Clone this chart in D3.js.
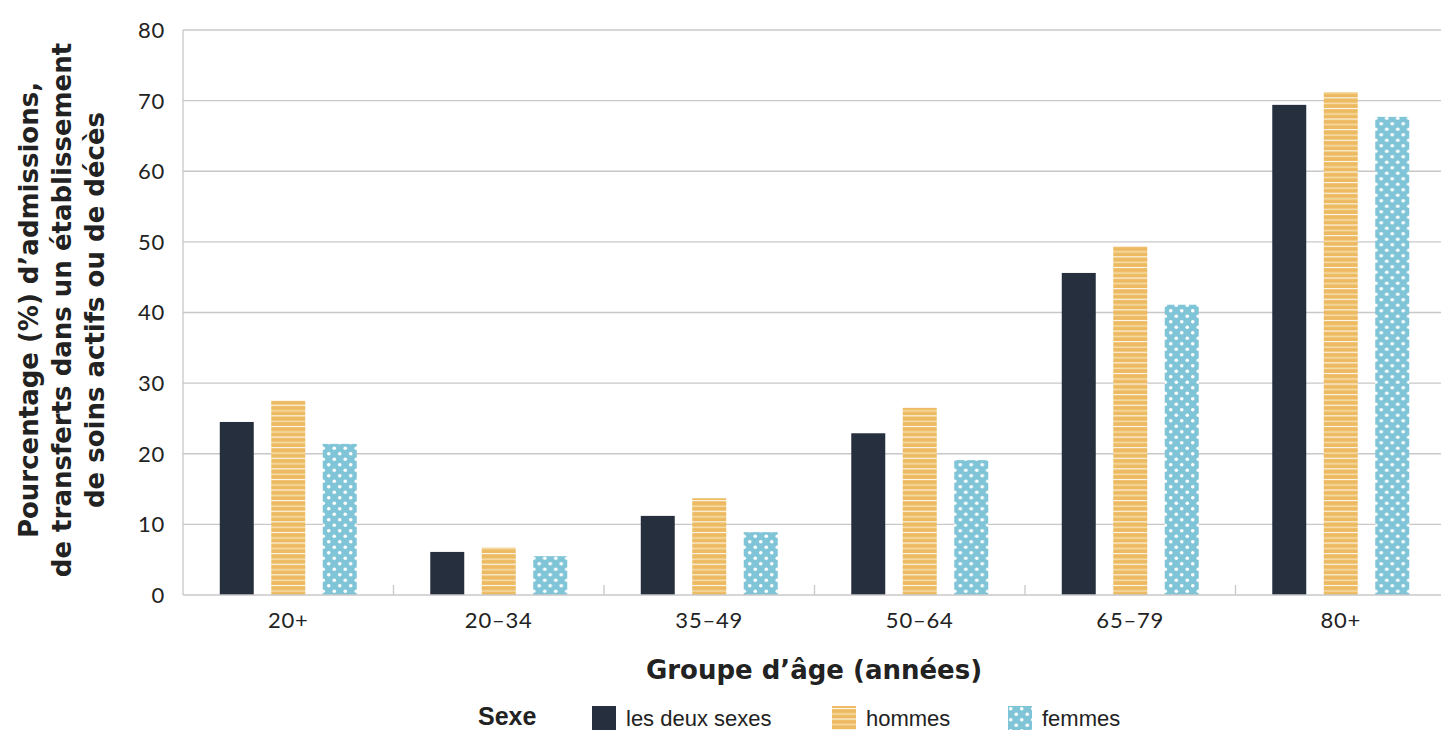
<!DOCTYPE html>
<html>
<head>
<meta charset="utf-8">
<script src="https://cdn.jsdelivr.net/npm/d3@7"></script>
<style>
  html, body { margin: 0; padding: 0; background: #fff; }
  svg { display: block; }
  text { font-family: Lato, "Open Sans", sans-serif; fill: #222; }
  .tick-label { font-size: 22px; letter-spacing: 0.8px; }
  .title { font-family: "DejaVu Sans", sans-serif; font-weight: 700; }
  .legend { font-family: "Liberation Sans", Arial, sans-serif; }
</style>
</head>
<body>
<svg id="chart" width="1441" height="732"></svg>
<script>
const categories = ["20+", "20–34", "35–49", "50–64", "65–79", "80+"];
const seriesNames = ["les deux sexes", "hommes", "femmes"];
const deuxSexes = [24.5, 6.1, 11.2, 22.9, 45.6, 69.4];
const hommes    = [27.5, 6.7, 13.7, 26.5, 49.4, 71.2];
const femmes    = [21.4, 5.5, 8.9, 19.1, 41.1, 67.7];
const yTicks = [0, 10, 20, 30, 40, 50, 60, 70, 80];

const seriesValues = [deuxSexes, hommes, femmes];

const svg = d3.select("#chart");
const margin = { left: 183, right: -5, top: 30, bottom: 137 };
const W = 1441, H = 732;

const x = d3.scaleBand().domain(categories).range([margin.left, W - margin.right]).padding(0);
const x1 = d3.scaleBand().domain(seriesNames).range([0, x.bandwidth()]).paddingInner(0.34).paddingOuter(0.714);
const y = d3.scaleLinear().domain([0, 80]).range([H - margin.bottom, margin.top]);

// Fill patterns: horizontal stripes for men, staggered dots for women
const defs = svg.append("defs");
const pStripe = defs.append("pattern").attr("id", "stripes")
  .attr("patternUnits", "userSpaceOnUse").attr("width", 10).attr("height", 10.6);
pStripe.append("rect").attr("width", 10).attr("height", 10.6).attr("fill", "#EDBA62");
pStripe.append("rect").attr("y", 2).attr("width", 10).attr("height", 1).attr("fill", "#ffffff");
pStripe.append("rect").attr("y", 7.2).attr("width", 10).attr("height", 1.6).attr("fill", "#F6DDA8");

const pDots = defs.append("pattern").attr("id", "dots")
  .attr("patternUnits", "userSpaceOnUse").attr("width", 11).attr("height", 11);
pDots.append("rect").attr("width", 11).attr("height", 11).attr("fill", "#80C5D7");
pDots.append("circle").attr("cx", 2.75).attr("cy", 2.75).attr("r", 1.8).attr("fill", "#ffffff");
pDots.append("circle").attr("cx", 8.25).attr("cy", 8.25).attr("r", 1.8).attr("fill", "#ffffff");

const fills = { "les deux sexes": "#262F3D", "hommes": "url(#stripes)", "femmes": "url(#dots)" };

// Gridlines
svg.append("g").selectAll("line").data(yTicks.filter(d => d > 0)).join("line")
  .attr("x1", margin.left).attr("x2", W)
  .attr("y1", d => y(d)).attr("y2", d => y(d))
  .attr("stroke", "#c8c8c8").attr("stroke-width", 1.3);

// Y tick labels
svg.append("g").selectAll("text").data(yTicks).join("text")
  .attr("class", "tick-label")
  .attr("x", 165).attr("y", d => y(d)).attr("dy", "0.36em")
  .attr("text-anchor", "end").text(d => d);

// Bars
const groups = svg.append("g").selectAll("g").data(categories).join("g")
  .attr("transform", d => `translate(${x(d)},0)`);
groups.selectAll("rect").data((c, i) => seriesNames.map((s, j) => ({ s, v: seriesValues[j][i] }))).join("rect")
  .attr("x", d => x1(d.s)).attr("width", x1.bandwidth())
  .attr("y", d => y(d.v)).attr("height", d => y(0) - y(d.v))
  .attr("fill", d => fills[d.s]);

// Axis lines and category separators
svg.append("line").attr("x1", margin.left).attr("x2", margin.left)
  .attr("y1", margin.top).attr("y2", y(0)).attr("stroke", "#c8c8c8").attr("stroke-width", 1.3);
svg.append("line").attr("x1", margin.left).attr("x2", W)
  .attr("y1", y(0)).attr("y2", y(0)).attr("stroke", "#c8c8c8").attr("stroke-width", 1.5);
svg.append("g").selectAll("line").data(categories.slice(1)).join("line")
  .attr("x1", d => x(d)).attr("x2", d => x(d))
  .attr("y1", y(0) - 10).attr("y2", y(0)).attr("stroke", "#c8c8c8").attr("stroke-width", 1.3);

// X tick labels
svg.append("g").selectAll("text").data(categories).join("text")
  .attr("class", "tick-label")
  .attr("x", d => x(d) + x.bandwidth() / 2).attr("y", 628)
  .attr("text-anchor", "middle").text(d => d);

// Axis titles
svg.append("text").attr("class", "title").attr("x", 814).attr("y", 679).attr("text-anchor", "middle")
  .attr("font-size", 26).text("Groupe d’âge (années)");

const yTitle = ["Pourcentage (%) d’admissions,", "de transferts dans un établissement", "de soins actifs ou de décès"];
svg.append("g").attr("transform", "translate(38,310) rotate(-90)")
  .selectAll("text").data(yTitle).join("text")
  .attr("class", "title")
  .attr("x", 0).attr("y", (d, i) => i * 33)
  .attr("text-anchor", "middle").attr("font-size", 26).text(d => d);

// Legend
svg.append("text").attr("class", "legend").attr("x", 478).attr("y", 725)
  .attr("font-size", 25).attr("font-weight", 700).text("Sexe");
const legendX = [592, 832, 1008];
const lg = svg.append("g").selectAll("g").data(seriesNames).join("g")
  .attr("transform", (d, i) => `translate(${legendX[i]},706)`);
lg.append("rect").attr("width", 24).attr("height", 24).attr("fill", d => fills[d]);
lg.append("text").attr("class", "legend").attr("x", 34).attr("y", 20).attr("font-size", 22).text(d => d);
</script>
</body>
</html>
